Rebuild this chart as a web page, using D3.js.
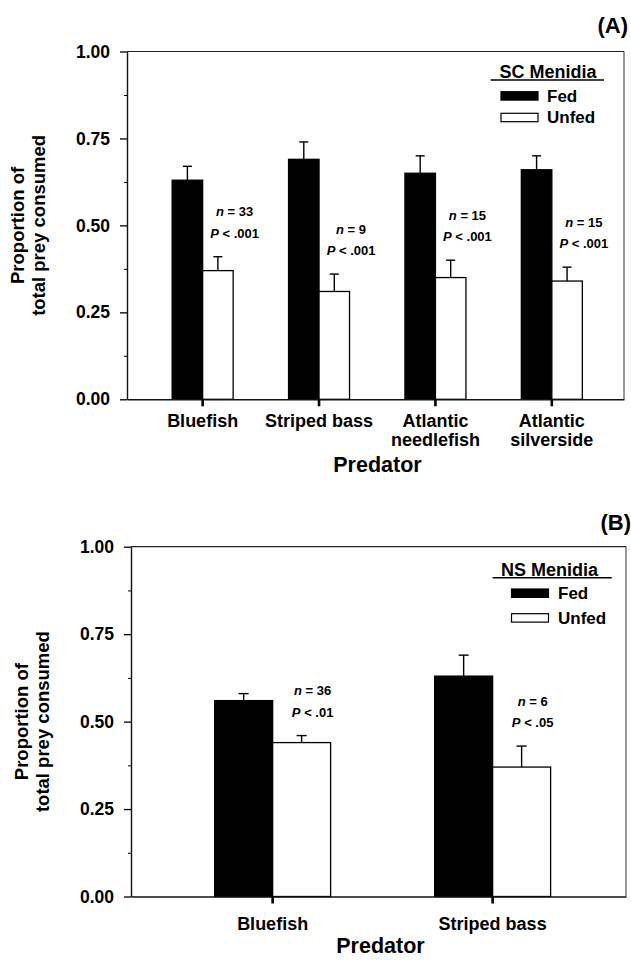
<!DOCTYPE html>
<html lang="en">
  <head>
    <meta charset="utf-8">
    <script src="https://cdnjs.cloudflare.com/ajax/libs/d3/7.8.5/d3.min.js"></script>
    <style>
      body { margin: 0; background: #fff; }
      svg text { font-family: "Liberation Sans", Arial, Helvetica, sans-serif; font-weight: bold; fill: #000; }
    </style>
  </head>
  <body>
  <script>

    // panel A data (SC Menidia)
    var predatorsA = ["Bluefish", "Striped bass", "Atlantic\nneedlefish", "Atlantic\nsilverside"];
    var fedA = [0.63, 0.69, 0.65, 0.66];
    var fedErrA = [0.04, 0.05, 0.05, 0.04];
    var unfedA = [0.37, 0.31, 0.35, 0.34];
    var unfedErrA = [0.04, 0.05, 0.05, 0.04];
    var nA = ["33", "9", "15", "15"];
    var pA = [".001", ".001", ".001", ".001"];

    // panel B data (NS Menidia)
    var predatorsB = ["Bluefish", "Striped bass"];
    var fedB = [0.56, 0.63];
    var fedErrB = [0.02, 0.06];
    var unfedB = [0.44, 0.37];
    var unfedErrB = [0.02, 0.06];
    var nB = ["36", "6"];
    var pB = [".01", ".05"];

    var groups = ["Fed", "Unfed"];
    var yTicks = [0, 0.25, 0.5, 0.75, 1.0];
    var yMinorTicks = [0.125, 0.375, 0.625, 0.875];

    var svg = d3.select("body").append("svg")
      .attr("width", 631)
      .attr("height", 962);

    var drawPanel = function(p) {
      var g = svg.append("g");

      var y = d3.scaleLinear().domain([0, 1]).range([p.bottom, p.top]);
      var x0 = d3.scaleBand().domain(p.cats).range([p.left, p.right])
        .paddingInner(p.padIn).paddingOuter(p.padOut).align(p.align);
      var x1 = d3.scaleBand().domain(groups).range([0, x0.bandwidth()]);

      var rows = p.cats.map(function(c, i) {
        return {cat: c, fed: p.fed[i], fedErr: p.fedErr[i], unfed: p.unfed[i],
                unfedErr: p.unfedErr[i], n: p.n[i], pv: p.pv[i]};
      });
      var bars = [];
      rows.forEach(function(r) {
        bars.push({cat: r.cat, grp: "Fed", v: r.fed, e: r.fedErr});
        bars.push({cat: r.cat, grp: "Unfed", v: r.unfed, e: r.unfedErr});
      });

      // frame top + right
      g.append("line").attr("x1", p.left).attr("x2", p.right)
        .attr("y1", y(1)).attr("y2", y(1))
        .attr("stroke", "#222").attr("stroke-width", 1.2);
      g.append("line").attr("x1", p.right).attr("x2", p.right)
        .attr("y1", y(1)).attr("y2", y(0))
        .attr("stroke", "#333").attr("stroke-width", 1);

      // error bars (upward only)
      var eb = g.append("g").selectAll("g").data(bars).enter().append("g");
      eb.append("line")
        .attr("x1", function(d) { return x0(d.cat) + x1(d.grp) + x1.bandwidth() / 2; })
        .attr("x2", function(d) { return x0(d.cat) + x1(d.grp) + x1.bandwidth() / 2; })
        .attr("y1", function(d) { return y(d.v); })
        .attr("y2", function(d) { return y(d.v + d.e); })
        .attr("stroke", "#000").attr("stroke-width", 1.4);
      eb.append("line")
        .attr("x1", function(d) { return x0(d.cat) + x1(d.grp) + x1.bandwidth() / 2 - p.cap / 2; })
        .attr("x2", function(d) { return x0(d.cat) + x1(d.grp) + x1.bandwidth() / 2 + p.cap / 2; })
        .attr("y1", function(d) { return y(d.v + d.e); })
        .attr("y2", function(d) { return y(d.v + d.e); })
        .attr("stroke", "#000").attr("stroke-width", 1.4);

      // bars
      g.append("g").selectAll("rect").data(bars).enter().append("rect")
        .attr("x", function(d) { return x0(d.cat) + x1(d.grp); })
        .attr("y", function(d) { return y(d.v); })
        .attr("width", x1.bandwidth())
        .attr("height", function(d) { return y(0) - y(d.v); })
        .attr("fill", function(d) { return d.grp == "Fed" ? "#000" : "#fff"; })
        .attr("stroke", "#000")
        .attr("stroke-width", 1.3);

      // y axis, major + minor ticks
      var yAxis = d3.axisLeft(y).tickValues(yTicks).tickFormat(d3.format(".2f"))
        .tickSize(7).tickSizeOuter(0).tickPadding(10);
      var ya = g.append("g").attr("transform", "translate(" + p.left + ",0)").call(yAxis);
      ya.selectAll("text").style("font-size", "17.5px");
      ya.select(".domain").attr("stroke", "#111").attr("stroke-width", 1.4);
      ya.selectAll(".tick line").attr("stroke-width", 1.3);
      var yMinor = d3.axisLeft(y).tickValues(yMinorTicks).tickFormat("").tickSize(3).tickSizeOuter(0);
      var ym = g.append("g").attr("transform", "translate(" + p.left + ",0)").call(yMinor);
      ym.select(".domain").remove();
      ym.selectAll(".tick line").attr("stroke-width", 1);

      // x axis
      var xAxis = d3.axisBottom(x0).tickSize(7).tickSizeOuter(0).tickFormat("");
      var xa = g.append("g").attr("transform", "translate(0," + p.bottom + ")").call(xAxis);
      xa.select(".domain").attr("stroke", "#111").attr("stroke-width", 1.5);
      xa.selectAll(".tick line").attr("stroke-width", 2.6);

      // category labels (can be two lines)
      var cl = g.append("g").selectAll("text").data(p.cats).enter().append("text")
        .attr("text-anchor", "middle")
        .attr("x", function(d) { return x0(d) + x0.bandwidth() / 2; })
        .attr("y", p.bottom + p.catDy)
        .style("font-size", "18px");
      cl.each(function(d) {
        var t = d3.select(this);
        d.split("\n").forEach(function(s, i) {
          t.append("tspan").attr("x", t.attr("x")).attr("dy", i == 0 ? "0.35em" : "19.3px").text(s);
        });
      });

      // x title
      g.append("text").attr("text-anchor", "middle")
        .attr("x", (p.left + p.right) / 2 + 2)
        .attr("y", p.bottom + p.titleDy).attr("dy", "0.35em")
        .style("font-size", "21.5px")
        .text("Predator");

      // y title
      var yc = (p.top + p.bottom) / 2;
      g.append("text").attr("text-anchor", "middle")
        .attr("transform", "translate(" + p.ylab1 + "," + yc + ") rotate(-90)")
        .style("font-size", "18.5px").text("Proportion of");
      g.append("text").attr("text-anchor", "middle")
        .attr("transform", "translate(" + p.ylab2 + "," + yc + ") rotate(-90)")
        .style("font-size", "18.5px").text("total prey consumed");

      // n and P annotations
      var an = g.append("g").selectAll("g").data(rows).enter().append("g")
        .attr("transform", function(d) {
          return "translate(" + (x0(d.cat) + x0.bandwidth() / 2 + p.annDx) + "," + (y(d.unfed + d.unfedErr) - 45) + ")";
        });
      var t1 = an.append("text").attr("text-anchor", "middle").attr("dy", "0.35em").style("font-size", "13px");
      t1.append("tspan").style("font-style", "italic").text("n");
      t1.append("tspan").text(function(d) { return " = " + d.n; });
      var t2 = an.append("text").attr("text-anchor", "middle").attr("y", 21.5).attr("dy", "0.35em").style("font-size", "13px");
      t2.append("tspan").style("font-style", "italic").text("P");
      t2.append("tspan").text(function(d) { return " < " + d.pv; });

      // legend
      var lg = g.append("g");
      lg.append("text").attr("text-anchor", "middle")
        .attr("x", p.leg.cx).attr("y", p.top + p.leg.titleDy).attr("dy", "0.35em")
        .style("font-size", "18px").text(p.legTitle);
      lg.append("line").attr("x1", p.leg.ulx1).attr("x2", p.leg.ulx2)
        .attr("y1", p.top + p.leg.ulDy).attr("y2", p.top + p.leg.ulDy)
        .attr("stroke", "#000").attr("stroke-width", 1.6);
      groups.forEach(function(gr, i) {
        var yy = p.top + p.leg.rowDy[i];
        lg.append("rect").attr("x", p.leg.sx).attr("y", yy - 4.2)
          .attr("width", 37).attr("height", 8.4)
          .attr("fill", gr == "Fed" ? "#000" : "#fff")
          .attr("stroke", "#000").attr("stroke-width", 1.2);
        lg.append("text").attr("x", p.leg.tx).attr("y", yy).attr("dy", "0.35em")
          .style("font-size", "17px").text(gr);
      });

      // panel letter
      g.append("text").attr("text-anchor", "end")
        .attr("x", p.letterX).attr("y", p.letterY)
        .style("font-size", "22px").text(p.letter);
    };

    drawPanel({
      cats: predatorsA, fed: fedA, fedErr: fedErrA, unfed: unfedA, unfedErr: unfedErrA, n: nA, pv: pA,
      top: 51.5, bottom: 399.3, left: 127, right: 624,
      padIn: 0.476, padOut: 0.373, align: 0.52, cap: 9, annDx: 32,
      catDy: 21.4, titleDy: 65, ylab1: 24, ylab2: 45,
      legTitle: "SC Menidia",
      leg: {cx: 548, titleDy: 20.2, ulx1: 490.7, ulx2: 604, ulDy: 28.5, rowDy: [44.4, 66], sx: 501, tx: 547},
      letter: "(A)", letterX: 628, letterY: 33
    });

    drawPanel({
      cats: predatorsB, fed: fedB, fedErr: fedErrB, unfed: unfedB, unfedErr: unfedErrB, n: nB, pv: pB,
      top: 546.7, bottom: 896.5, left: 131, right: 626,
      padIn: 0.473, padOut: 0.3615, align: 0.526, cap: 10, annDx: 40,
      catDy: 26.8, titleDy: 49, ylab1: 28, ylab2: 49,
      legTitle: "NS Menidia",
      leg: {cx: 549.4, titleDy: 23.3, ulx1: 492.7, ulx2: 611.7, ulDy: 31, rowDy: [46.5, 71.2], sx: 511.5, tx: 558},
      letter: "(B)", letterX: 631, letterY: 530
    });

  </script>
  </body>
</html>
